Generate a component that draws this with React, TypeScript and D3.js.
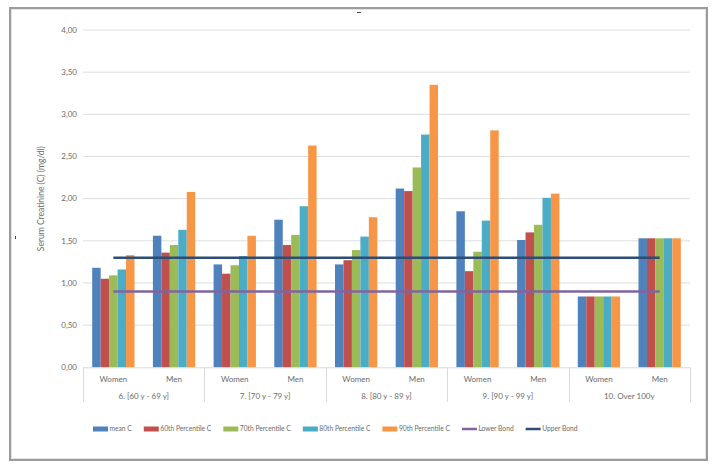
import React, { useEffect, useRef } from "react";
import * as d3 from "d3";

const subCategories = ["Women", "Men", "Women", "Men", "Women", "Men", "Women", "Men", "Women", "Men"];
const groupLabels = ["6. [60 y - 69 y]", "7. [70 y - 79 y]", "8. [80 y - 89 y]", "9. [90 y - 99 y]", "10. Over 100y"];
const meanC = [1.18, 1.56, 1.22, 1.75, 1.22, 2.12, 1.85, 1.51, 0.84, 1.53];
const p60C = [1.05, 1.36, 1.11, 1.45, 1.27, 2.09, 1.14, 1.6, 0.84, 1.53];
const p70C = [1.09, 1.45, 1.21, 1.57, 1.39, 2.37, 1.37, 1.69, 0.84, 1.53];
const p80C = [1.16, 1.63, 1.32, 1.91, 1.55, 2.76, 1.74, 2.01, 0.84, 1.53];
const p90C = [1.33, 2.08, 1.56, 2.63, 1.78, 3.35, 2.81, 2.06, 0.84, 1.53];
const lowerBond = [0.9, 0.9, 0.9, 0.9, 0.9, 0.9, 0.9, 0.9, 0.9, 0.9];
const upperBond = [1.3, 1.3, 1.3, 1.3, 1.3, 1.3, 1.3, 1.3, 1.3, 1.3];
const yTicks = [0, 0.5, 1, 1.5, 2, 2.5, 3, 3.5, 4];
const barSeriesNames = ["mean C", "60th Percentile C", "70th Percentile C", "80th Percentile C", "90th Percentile C"];
const lineSeriesNames = ["Lower Bond", "Upper Bond"];
const barColors = ["#4F81BD", "#C0504D", "#9BBB59", "#4BACC6", "#F79646"];
const lineColors = ["#8064A2", "#2C4D75"];

const W = 717;
const H = 467;
const FONT = "Lato, 'Open Sans', sans-serif";

export default function App() {
  const ref = useRef<SVGSVGElement | null>(null);

  useEffect(() => {
    const svg = d3.select(ref.current);
    svg.selectAll("*").remove();

    const barSeries = [meanC, p60C, p70C, p80C, p90C];
    const lineSeries = [lowerBond, upperBond];

    const left = 83, right = 690, top = 30, bottom = 367.3;
    const idx = d3.range(subCategories.length).map(String);
    const x0 = d3.scaleBand<string>().domain(idx).range([left, right]).padding(0);
    const y = d3.scaleLinear().domain([0, 4]).range([bottom, top]);
    const groupFrac = 0.697;
    const x1 = d3.scaleBand<string>().domain(barSeriesNames).range([0, x0.bandwidth() * groupFrac]).padding(0);
    const off = (x0.bandwidth() * (1 - groupFrac)) / 2;

    // background + frame
    svg.append("rect").attr("x", 0).attr("y", 0).attr("width", W).attr("height", H).attr("fill", "#ffffff");
    svg.append("rect").attr("x", 10).attr("y", 8).attr("width", 697).attr("height", 452)
      .attr("fill", "#ffffff").attr("stroke", "#9c9c9c").attr("stroke-width", 2);
    svg.append("rect").attr("x", 11.5).attr("y", 9.5).attr("width", 694).attr("height", 449)
      .attr("fill", "none").attr("stroke", "#e3e3e3").attr("stroke-width", 1);

    // small marks
    svg.append("line").attr("x1", 357).attr("x2", 361).attr("y1", 12.5).attr("y2", 12.5).attr("stroke", "#444").attr("stroke-width", 1);
    svg.append("line").attr("x1", 15.5).attr("x2", 15.5).attr("y1", 236).attr("y2", 239).attr("stroke", "#444").attr("stroke-width", 1);

    // gridlines
    const g = svg.append("g");
    yTicks.forEach((t) => {
      if (t > 0) {
        g.append("line").attr("x1", left).attr("x2", right).attr("y1", y(t)).attr("y2", y(t))
          .attr("stroke", "#dedede").attr("stroke-width", 1);
      }
      g.append("text").attr("x", 77).attr("y", y(t)).attr("dy", "0.35em").attr("text-anchor", "end")
        .attr("font-family", FONT).attr("font-size", 8).attr("fill", "#6b6b6b")
        .text(d3.format(".2f")(t).replace(".", ","));
    });

    // axis title
    svg.append("text").attr("transform", `translate(44,${(top + bottom) / 2}) rotate(-90)`)
      .attr("text-anchor", "middle").attr("font-family", FONT).attr("font-size", 8.5).attr("fill", "#6b6b6b")
      .text("Serum Creatinine (C) (mg/dl)");

    // bars
    barSeries.forEach((vals, si) => {
      svg.append("g").selectAll("rect").data(vals).join("rect")
        .attr("x", (_d, i) => (x0(String(i)) as number) + off + (x1(barSeriesNames[si]) as number))
        .attr("y", (d) => y(d))
        .attr("width", x1.bandwidth())
        .attr("height", (d) => y(0) - y(d))
        .attr("fill", barColors[si]);
    });

    // category axis
    svg.append("line").attr("x1", left).attr("x2", right).attr("y1", bottom + 0.5).attr("y2", bottom + 0.5)
      .attr("stroke", "#d9d9d9").attr("stroke-width", 1);
    for (let k = 0; k <= groupLabels.length; k++) {
      const xx = Math.round(left + k * 2 * x0.bandwidth()) + 0.5;
      svg.append("line").attr("x1", xx).attr("x2", xx).attr("y1", bottom).attr("y2", 402)
        .attr("stroke", "#d9d9d9").attr("stroke-width", 1);
    }
    subCategories.forEach((c, i) => {
      svg.append("text").attr("x", (x0(String(i)) as number) + x0.bandwidth() / 2).attr("y", 379.5).attr("dy", "0.35em")
        .attr("text-anchor", "middle").attr("font-family", FONT).attr("font-size", 8).attr("fill", "#6b6b6b").text(c);
    });
    groupLabels.forEach((c, k) => {
      svg.append("text").attr("x", left + (k * 2 + 1) * x0.bandwidth()).attr("y", 396).attr("dy", "0.35em")
        .attr("text-anchor", "middle").attr("font-family", FONT).attr("font-size", 8).attr("fill", "#6b6b6b").text(c);
    });

    // lines
    lineSeries.forEach((vals, li) => {
      const line = d3.line<number>()
        .x((_d, i) => (x0(String(i)) as number) + x0.bandwidth() / 2)
        .y((d) => y(d));
      svg.append("path").datum(vals).attr("d", line).attr("fill", "none")
        .attr("stroke", lineColors[li]).attr("stroke-width", 2.5);
    });

    // legend
    const leg = svg.append("g");
    const ly = 429;
    let cx = 93;
    const allNames = [...barSeriesNames, ...lineSeriesNames];
    allNames.forEach((name, i) => {
      if (i < barSeriesNames.length) {
        leg.append("rect").attr("x", cx).attr("y", ly - 2.5).attr("width", 15).attr("height", 5).attr("fill", barColors[i]);
      } else {
        leg.append("line").attr("x1", cx).attr("x2", cx + 15).attr("y1", ly).attr("y2", ly)
          .attr("stroke", lineColors[i - barSeriesNames.length]).attr("stroke-width", 2.5);
      }
      const t = leg.append("text").attr("x", cx + 16.5).attr("y", ly).attr("dy", "0.35em")
        .attr("font-family", FONT).attr("font-size", 6.7).attr("fill", "#6b6b6b").text(name);
      const w = (t.node() as SVGTextElement).getComputedTextLength();
      cx = cx + 16.5 + w + 12;
    });
  }, []);

  return (
    <svg ref={ref} width={W} height={H} style={{ position: "absolute", left: 0, top: 0, display: "block" }} />
  );
}
